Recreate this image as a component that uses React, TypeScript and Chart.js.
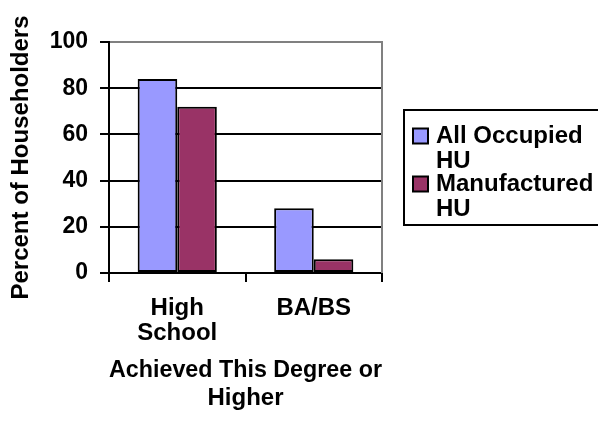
import React, { useEffect, useRef } from "react";
import { Chart, registerables } from "chart.js";

Chart.register(...registerables);

// ---- data ----
const categories: (string | string[])[] = [["High", "School"], "BA/BS"];
const seriesNames = ["All Occupied HU", "Manufactured HU"];
const legendLines = [["All Occupied", "HU"], ["Manufactured", "HU"]];
const allOccupied = [84, 28];
const manufactured = [72, 6];
const yMin = 0;
const yMax = 100;
const yStep = 20;
const yTitle = "Percent of Householders";
const xTitle = ["Achieved This Degree or", "Higher"];
const seriesColors = ["#9999FF", "#993366"];

const FAMILY = "'Liberation Sans', Arial, Helvetica, sans-serif";
const FONT24 = { family: FAMILY, size: 24, weight: "bold" as const };
const FONT23 = { family: FAMILY, size: 23, weight: "bold" as const };

const legendPlugin = {
  id: "excelLegend",
  afterDraw(chart: any) {
    const { ctx, chartArea } = chart;
    ctx.save();
    // plot-area right border (grey)
    ctx.strokeStyle = "#808080";
    ctx.lineWidth = 2;
    ctx.beginPath();
    ctx.moveTo(chartArea.right, chartArea.top - 1);
    ctx.lineTo(chartArea.right, chartArea.bottom);
    ctx.stroke();

    const boxL = chartArea.right + 22;
    const boxT = 110;
    const boxB = 225;
    ctx.strokeStyle = "#000";
    ctx.lineWidth = 2;
    ctx.strokeRect(boxL, boxT, chart.width + 10 - boxL, boxB - boxT);

    ctx.font = `bold 24px ${FAMILY}`;
    ctx.textBaseline = "middle";
    ctx.textAlign = "left";
    const lineH = 25;
    const starts = [136, 184];
    chart.data.datasets.forEach((ds: any, i: number) => {
      const y0 = starts[i];
      ctx.fillStyle = ds.backgroundColor;
      ctx.fillRect(boxL + 9, y0 - 7.5, 15, 15);
      ctx.strokeStyle = "#000";
      ctx.lineWidth = 2;
      ctx.strokeRect(boxL + 9, y0 - 7.5, 15, 15);
      ctx.fillStyle = "#000";
      legendLines[i].forEach((t, k) => {
        ctx.fillText(t, boxL + 32, y0 + k * lineH);
      });
    });
    ctx.restore();
  },
};

export default function App() {
  const ref = useRef<HTMLCanvasElement | null>(null);
  useEffect(() => {
    document.body.style.margin = "0";
    const canvas = ref.current;
    if (!canvas) return;
    const chart = new Chart(canvas, {
      type: "bar",
      data: {
        labels: categories,
        datasets: [
          {
            label: seriesNames[0],
            data: allOccupied,
            backgroundColor: seriesColors[0],
            borderColor: "#000",
            borderWidth: 2,
            borderSkipped: false,
          },
          {
            label: seriesNames[1],
            data: manufactured,
            backgroundColor: seriesColors[1],
            borderColor: "#000",
            borderWidth: 2,
            borderSkipped: false,
          },
        ],
      },
      options: {
        animation: false,
        responsive: false,
        devicePixelRatio: 1,
        layout: { padding: { left: 0, top: 42, right: 216, bottom: 0 } },
        datasets: { bar: { categoryPercentage: 0.58, barPercentage: 1 } },
        plugins: { legend: { display: false }, tooltip: { enabled: false } },
        scales: {
          x: {
            offset: true,
            afterFit: (s: any) => {
              s.height = 158;
            },
            grid: {
              offset: true,
              drawOnChartArea: false,
              drawTicks: true,
              tickLength: 9,
              tickColor: "#000",
              tickWidth: 2,
              lineWidth: 2,
              color: "#000",
            },
            border: { display: true, color: "#000", width: 2 },
            ticks: {
              font: { ...FONT24, lineHeight: 1.05 },
              color: "#000",
              padding: 14,
              maxRotation: 0,
            },
            title: {
              display: true,
              text: xTitle,
              font: { ...FONT24, lineHeight: 1.17 },
              color: "#000",
              padding: { top: 0, bottom: 19 },
            },
          },
          y: {
            min: yMin,
            max: yMax,
            afterFit: (s: any) => {
              s.width = 109;
            },
            ticks: { stepSize: yStep, font: FONT23, color: "#000", padding: 12 },
            grid: {
              color: (c: any) => (c.tick && c.tick.value === yMax ? "#808080" : "#000"),
              lineWidth: 2,
              tickLength: 9,
              tickColor: "#000",
              tickWidth: 2,
            },
            border: { display: true, color: "#000", width: 2 },
            title: {
              display: true,
              text: yTitle,
              font: FONT24,
              color: "#000",
              padding: { top: 7, bottom: 0 },
            },
          },
        },
      },
      plugins: [legendPlugin],
    });
    return () => chart.destroy();
  }, []);
  return (
    <div style={{ width: 598, height: 431, background: "#fff" }}>
      <canvas ref={ref} width={598} height={431} style={{ display: "block" }} />
    </div>
  );
}
